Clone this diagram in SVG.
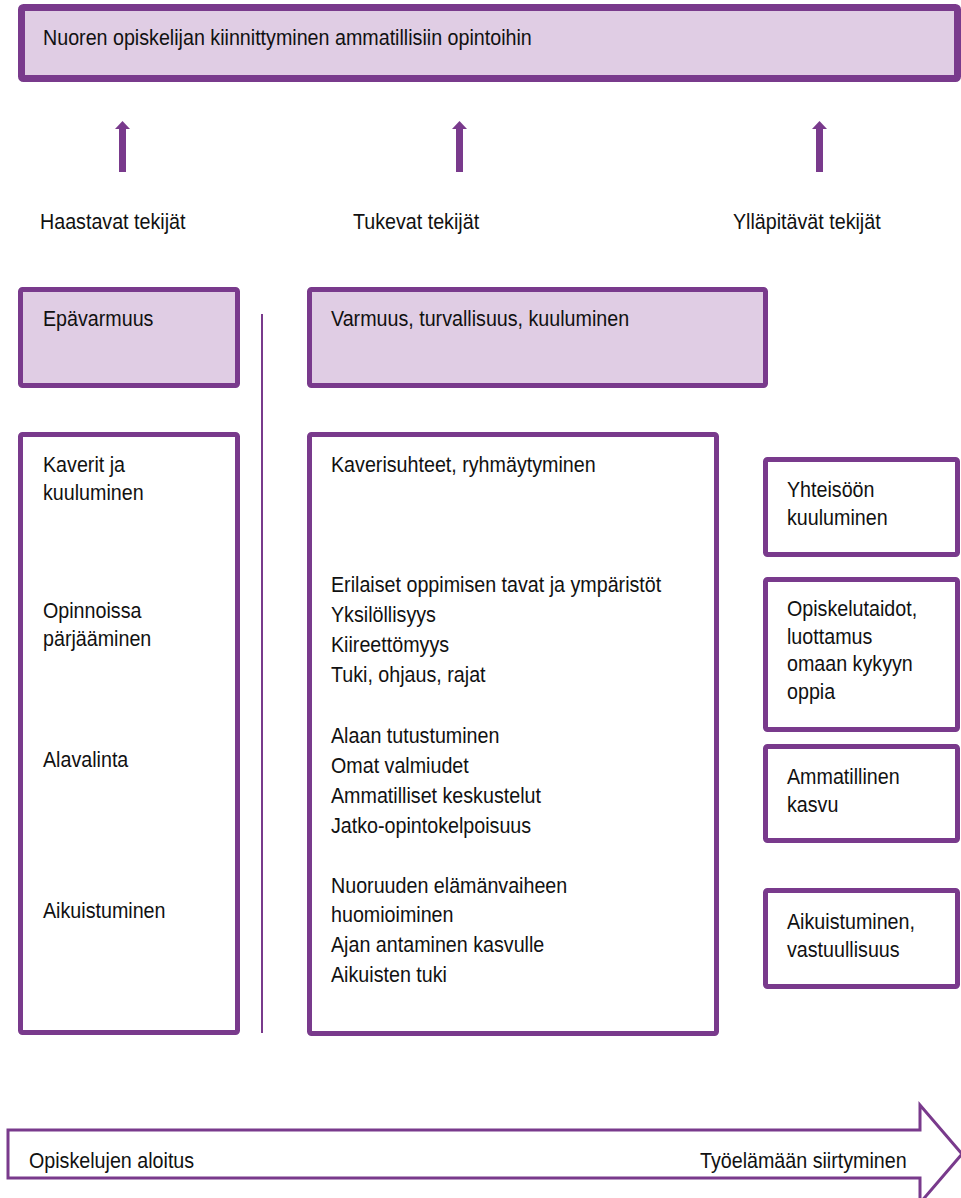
<svg xmlns="http://www.w3.org/2000/svg" width="961" height="1198" viewBox="0 0 961 1198">
<defs>
<style>
.t{font-family:"Liberation Sans",Arial,sans-serif;font-size:22px;fill:#111}
.hdr{fill:#e0cde4;stroke:#793a8c;stroke-width:5}
.box{fill:#ffffff;stroke:#793a8c;stroke-width:5}
.up{fill:#793a8c}
</style>
</defs>
<rect width="961" height="1198" fill="#ffffff"/>

<g id="top">
<rect x="21.5" y="7.5" width="936" height="71" rx="2" fill="#e0cde4" stroke="#793a8c" stroke-width="7"/>
<text class="t" transform="translate(43,45) scale(0.895,1)">Nuoren opiskelijan kiinnittyminen ammatillisiin opintoihin</text>
</g>

<g id="connectors">
<path class="up" d="M119,172 V129 H115 L122.5,121 L130,129 H126 V172 Z"/>
<path class="up" d="M456,172 V129 H452 L459.5,121 L467,129 H463 V172 Z"/>
<path class="up" d="M816,172 V129 H812 L819.5,121 L827,129 H823 V172 Z"/>
<line x1="262" y1="314" x2="262" y2="1033" stroke="#793a8c" stroke-width="2"/>
</g>

<g id="labels">
<text class="t" transform="translate(40,229) scale(0.895,1)">Haastavat tekijät</text>
<text class="t" transform="translate(353,229) scale(0.895,1)">Tukevat tekijät</text>
<text class="t" transform="translate(733,229) scale(0.895,1)">Ylläpitävät tekijät</text>
</g>

<g id="epavarmuus">
<rect class="hdr" x="20.5" y="289.5" width="217" height="96" rx="2"/>
<text class="t" transform="translate(43,326) scale(0.895,1)">Epävarmuus</text>
</g>

<g id="varmuus">
<rect class="hdr" x="309.5" y="289.5" width="456" height="96" rx="2"/>
<text class="t" transform="translate(331,326) scale(0.895,1)">Varmuus, turvallisuus, kuuluminen</text>
</g>

<g id="haastavat">
<rect class="box" x="20.5" y="434.5" width="217" height="598" rx="2"/>
<text class="t" transform="translate(43,472) scale(0.895,1)"><tspan x="0" y="0">Kaverit ja</tspan><tspan x="0" y="28">kuuluminen</tspan></text>
<text class="t" transform="translate(43,618) scale(0.895,1)"><tspan x="0" y="0">Opinnoissa</tspan><tspan x="0" y="28">pärjääminen</tspan></text>
<text class="t" transform="translate(43,767) scale(0.895,1)">Alavalinta</text>
<text class="t" transform="translate(43,918) scale(0.895,1)">Aikuistuminen</text>
</g>

<g id="tukevat">
<rect class="box" x="309.5" y="434.5" width="407" height="599" rx="2"/>
<text class="t" transform="translate(331,472) scale(0.895,1)">Kaverisuhteet, ryhmäytyminen</text>
<text class="t" transform="translate(331,592) scale(0.895,1)"><tspan x="0" y="0">Erilaiset oppimisen tavat ja ympäristöt</tspan><tspan x="0" y="30">Yksilöllisyys</tspan><tspan x="0" y="60">Kiireettömyys</tspan><tspan x="0" y="90">Tuki, ohjaus, rajat</tspan></text>
<text class="t" transform="translate(331,743) scale(0.895,1)"><tspan x="0" y="0">Alaan tutustuminen</tspan><tspan x="0" y="30">Omat valmiudet</tspan><tspan x="0" y="60">Ammatilliset keskustelut</tspan><tspan x="0" y="90">Jatko-opintokelpoisuus</tspan></text>
<text class="t" transform="translate(331,893) scale(0.895,1)"><tspan x="0" y="0">Nuoruuden elämänvaiheen</tspan><tspan x="0" y="29">huomioiminen</tspan><tspan x="0" y="59">Ajan antaminen kasvulle</tspan><tspan x="0" y="89">Aikuisten tuki</tspan></text>
</g>

<g id="yhteiso">
<rect class="box" x="765.5" y="459.5" width="192" height="95" rx="2"/>
<text class="t" transform="translate(787,497) scale(0.895,1)"><tspan x="0" y="0">Yhteisöön</tspan><tspan x="0" y="28">kuuluminen</tspan></text>
</g>

<g id="opiskelutaidot">
<rect class="box" x="765.5" y="579.5" width="192" height="150" rx="2"/>
<text class="t" transform="translate(787,616) scale(0.895,1)"><tspan x="0" y="0">Opiskelutaidot,</tspan><tspan x="0" y="28">luottamus</tspan><tspan x="0" y="55">omaan kykyyn</tspan><tspan x="0" y="83">oppia</tspan></text>
</g>

<g id="ammatillinen">
<rect class="box" x="765.5" y="746.5" width="192" height="94" rx="2"/>
<text class="t" transform="translate(787,784) scale(0.895,1)"><tspan x="0" y="0">Ammatillinen</tspan><tspan x="0" y="28">kasvu</tspan></text>
</g>

<g id="aikuistuminen">
<rect class="box" x="765.5" y="890.5" width="192" height="96" rx="2"/>
<text class="t" transform="translate(787,929) scale(0.895,1)"><tspan x="0" y="0">Aikuistuminen,</tspan><tspan x="0" y="28">vastuullisuus</tspan></text>
</g>

<g id="aikajana">
<path d="M8,1130 H920 V1105 L962,1154 L920,1203 V1178 H8 Z" fill="#ffffff" stroke="#793a8c" stroke-width="3"/>
<text class="t" transform="translate(29,1168) scale(0.895,1)">Opiskelujen aloitus</text>
<text class="t" transform="translate(700,1168) scale(0.895,1)">Työelämään siirtyminen</text>
</g>
</svg>
